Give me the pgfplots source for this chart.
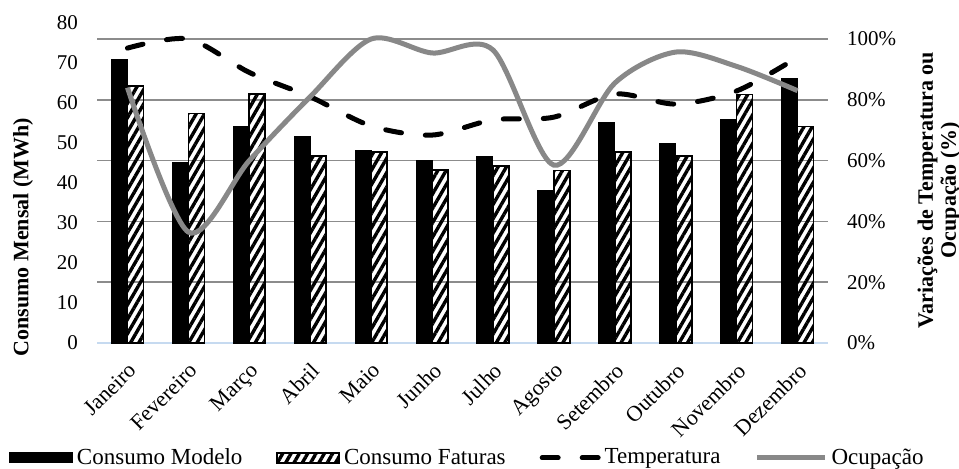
\documentclass[border=0pt]{standalone}
\usepackage{fontspec}
\setmainfont{Liberation Serif}
\usepackage{pgfplots}
\pgfplotsset{compat=1.18}
\usetikzlibrary{patterns.meta}

\definecolor{gridgray}{HTML}{8C8C8C}
\definecolor{ocupgray}{HTML}{888888}
\definecolor{baseblue}{HTML}{C6DAF0}

\tikzset{
  hatchfill/.style={pattern={Lines[angle=60, distance=3.6pt, line width=1.7pt]}, pattern color=black},
}

% Monthly consumption (MWh)
\pgfplotstableread{
x modelo faturas
0  70.9 64.2
1  45.2 57.4
2  54.1 62.2
3  51.6 46.8
4  48.1 47.8
5  45.6 43.2
6  46.6 44.3
7  38.2 43.1
8  55.1 47.8
9  49.8 46.8
10 55.8 62.1
11 66.2 54.1
}\consumo

% Temperature and occupancy variation (%)
\pgfplotstableread{
x temp ocup
0  97.0 84.0
1  100.0 36.5
2  89.0 60.0
3  81.0 81.0
4  71.4 100.0
5  68.4 95.4
6  73.4 96.4
7  74.3 58.5
8  81.9 85.5
9  78.6 95.7
10 82.9 91.0
11 94.0 83.0
}\variacao

\begin{document}
\begin{tikzpicture}
\useasboundingbox (0pt,0pt) rectangle (479.5pt,234pt);

\begin{axis}[
  at={(48.5pt,62.5pt)}, anchor=south west,
  scale only axis, width=365.5pt, height=160pt,
  xmin=-0.5, xmax=11.5, ymin=0, ymax=80,
  ybar=0pt, bar width=8pt,
  axis x line*=bottom, axis y line*=left,
  x axis line style={draw=baseblue, line width=0.9pt},
  y axis line style={draw=none},
  major tick length=0pt,
  xtick={0,...,11},
  xticklabels={Janeiro,Fevereiro,Março,Abril,Maio,Junho,Julho,Agosto,Setembro,Outubro,Novembro,Dezembro},
  x tick label style={font=\fontsize{11}{12}\selectfont, xshift=0pt, yshift=-9pt, rotate=45, anchor=north east, inner sep=0pt},
  ytick={0,10,...,80},
  yticklabel style={xshift=-6pt, font=\fontsize{10.5}{12}\selectfont},
  extra y ticks={15.2,30.4,45.6,60.8,76},
  extra y tick labels={},
  extra y tick style={grid=major, major grid style={draw=gridgray, line width=0.75pt}},
  ylabel={Consumo Mensal (MWh)},
  ylabel style={at={(axis description cs:-0.101,0.331)}, anchor=center, font=\bfseries\fontsize{11}{13}\selectfont},
  /pgf/number format/assume math mode=true,
]
\addplot[fill=black, draw=black, line width=0.5pt] table[x=x, y=modelo] {\consumo};
\addplot[hatchfill, draw=black, line width=0.8pt] table[x=x, y=faturas] {\consumo};
\end{axis}

\begin{axis}[
  at={(48.5pt,62.5pt)}, anchor=south west,
  scale only axis, width=365.5pt, height=160pt,
  xmin=-0.5, xmax=11.5, ymin=0, ymax=105.263,
  axis x line=none, axis y line*=right,
  y axis line style={draw=none},
  major tick length=0pt,
  ytick={0,20,...,100},
  yticklabel={\pgfmathprintnumber{\tick}\%},
  yticklabel style={xshift=6pt, font=\fontsize{10.5}{12}\selectfont},
  ylabel={Variações de Temperatura ou\\Ocupação (\%)},
  ylabel style={at={(axis description cs:1.152,0.478)}, anchor=center, align=center, font=\bfseries\fontsize{11}{11.5}\selectfont},
  /pgf/number format/assume math mode=true,
  legend columns=4,
  legend style={at={(axis description cs:0.508,-0.359)}, anchor=center, draw=none, fill=none,
    font=\fontsize{11.5}{13}\selectfont,
    /tikz/every even column/.append style={column sep=15pt}},
]
\addlegendimage{legend image code/.code={\fill[black] (0pt,-2.5pt) rectangle (31.5pt,2.5pt);}}
\addlegendentry{Consumo Modelo}
\addlegendimage{legend image code/.code={\draw[hatchfill, draw=black, line width=0.8pt] (0pt,-2.5pt) rectangle (31pt,2.5pt);}}
\addlegendentry{Consumo Faturas}
\addplot[black, line width=2.5pt, dash pattern=on 8pt off 12pt, line cap=round, smooth, tension=0.5,
  legend image code/.code={\draw[black, line width=2.5pt, dash pattern=on 8pt off 12pt, line cap=round] (1.25pt,0pt) -- (29.25pt,0pt);}]
  table[x=x, y=temp] {\variacao};
\addlegendentry{Temperatura}
\addplot[ocupgray, line width=2.5pt, smooth, tension=0.5,
  legend image code/.code={\draw[ocupgray, line width=2.5pt] (0pt,0pt) -- (34pt,0pt);}]
  table[x=x, y=ocup] {\variacao};
\addlegendentry{Ocupação}
\end{axis}
\end{tikzpicture}
\end{document}
